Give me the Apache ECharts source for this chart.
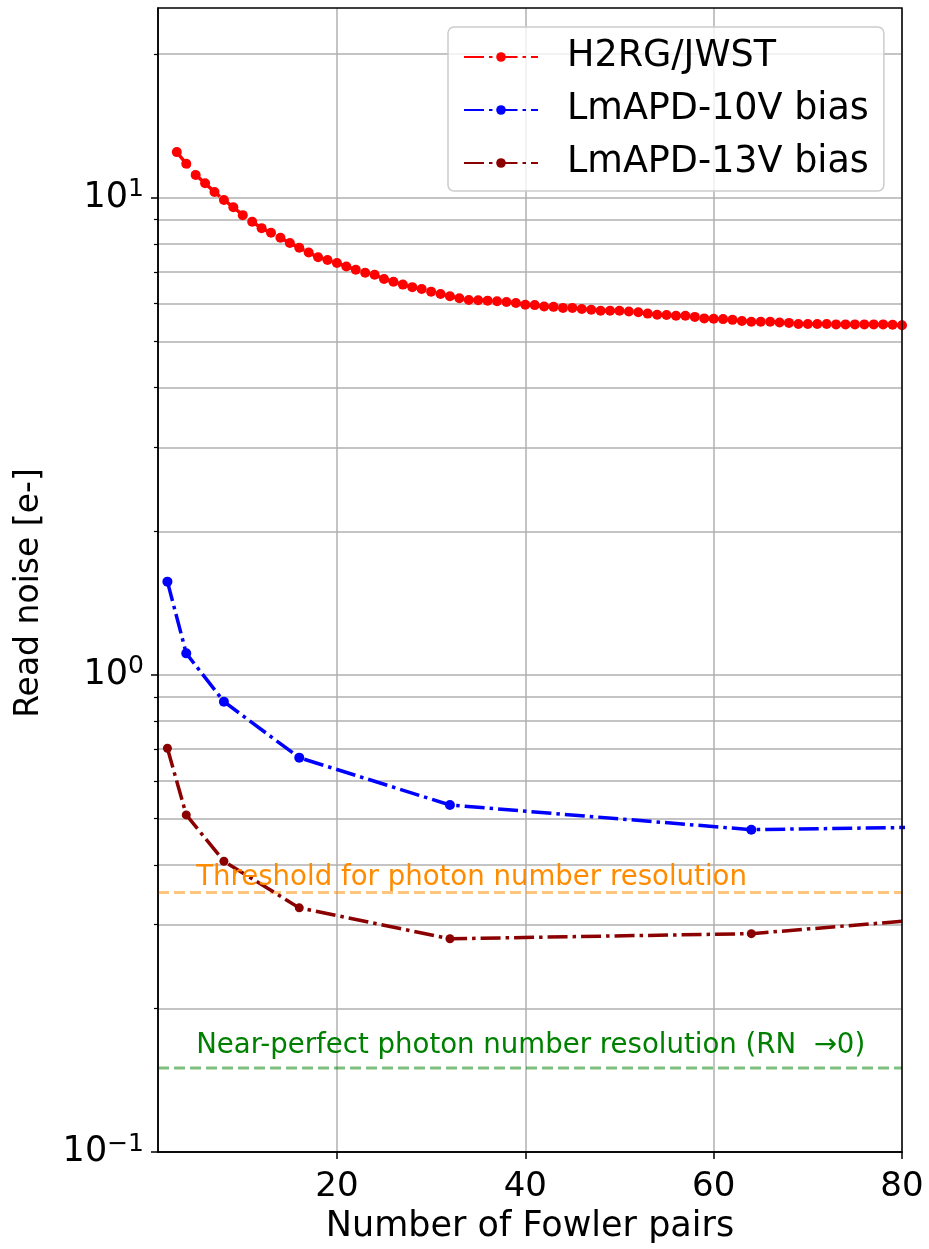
<!DOCTYPE html>
<html>
<head>
<meta charset="utf-8">
<script src="https://cdn.jsdelivr.net/npm/echarts@6/dist/echarts.min.js"></script>
<style>
  html, body { margin: 0; padding: 0; background: #ffffff; }
  #chart { width: 929px; height: 1249px; }
</style>
</head>
<body>
<div id="chart"></div>
<script>
// Read noise versus number of Fowler pairs
const h2rgPairs = [3, 4, 5, 6, 7, 8, 9, 10, 11, 12, 13, 14, 15, 16, 17, 18, 19, 20,
  21, 22, 23, 24, 25, 26, 27, 28, 29, 30, 31, 32, 33, 34, 35, 36, 37, 38, 39, 40,
  41, 42, 43, 44, 45, 46, 47, 48, 49, 50, 51, 52, 53, 54, 55, 56, 57, 58, 59, 60,
  61, 62, 63, 64, 65, 66, 67, 68, 69, 70, 71, 72, 73, 74, 75, 76, 77, 78, 79, 80];
const h2rgNoise = [12.47, 11.79, 11.17, 10.73, 10.29, 9.90, 9.56, 9.20, 8.91, 8.64, 8.45, 8.25,
  8.04, 7.86, 7.68, 7.51, 7.41, 7.30, 7.18, 7.07, 6.97, 6.90, 6.76, 6.67, 6.58, 6.50,
  6.44, 6.36, 6.29, 6.22, 6.16, 6.11, 6.10, 6.09, 6.07, 6.05, 6.02, 5.97, 5.96, 5.92,
  5.91, 5.88, 5.88, 5.85, 5.83, 5.80, 5.80, 5.80, 5.78, 5.76, 5.72, 5.69, 5.68, 5.66,
  5.66, 5.63, 5.59, 5.58, 5.57, 5.55, 5.52, 5.50, 5.50, 5.50, 5.48, 5.47, 5.44, 5.44,
  5.44, 5.44, 5.43, 5.43, 5.43, 5.43, 5.43, 5.43, 5.42, 5.41];

const apdPairs = [2, 4, 8, 16, 32, 64, 128];
const apd10Noise = [1.569, 1.110, 0.879, 0.671, 0.534, 0.474, 0.494];
const apd13Noise = [0.702, 0.509, 0.407, 0.325, 0.280, 0.287, 0.364];

const seriesNames = ['H2RG/JWST', 'LmAPD-10V bias', 'LmAPD-13V bias'];

// Reference levels for photon number resolution
const resolveLevel = [0.35, 0.35];
const perfectLevel = [0.15, 0.15];
const levelSpan = [1, 80];

// Axis ticks
const xTicks = [20, 40, 60, 80];
const yMajorTicks = [0.1, 1, 10];
const yMinorTicks = [0.2, 0.3, 0.4, 0.5, 0.6, 0.7, 0.8, 0.9, 2, 3, 4, 5, 6, 7, 8, 9, 20];

const FONT = 'DejaVu Sans';
const zip = (xs, ys) => xs.map((x, i) => [x, ys[i]]);
const DASHDOT = [20, 5, 3.5, 5];

function curve(name, xs, ys, color, size) {
  return {
    name: name,
    type: 'line',
    data: zip(xs, ys),
    symbol: 'circle',
    symbolSize: size,
    showAllSymbol: true,
    clip: true,
    z: 4,
    itemStyle: { color: color },
    lineStyle: { color: color, width: 3.5, type: DASHDOT }
  };
}

function level(ys, lineColor, textColor, text, textY) {
  return {
    type: 'line',
    data: zip(levelSpan, ys),
    symbol: 'none',
    silent: true,
    z: 2,
    lineStyle: { color: lineColor, width: 3, type: [11, 5] },
    markPoint: {
      silent: true,
      symbol: 'circle',
      symbolSize: 1,
      itemStyle: { color: 'rgba(0,0,0,0)' },
      data: [{
        coord: [5, textY],
        label: {
          show: true, position: 'right', distance: 0,
          formatter: text, color: textColor, fontFamily: FONT, fontSize: 27.6
        }
      }]
    }
  };
}

const chart = echarts.init(document.getElementById('chart'), null, { renderer: 'canvas' });

const option = {
  backgroundColor: '#ffffff',
  animation: false,
  grid: {
    left: 158, top: 8, right: 27, bottom: 96,
    show: true, borderColor: '#000000', borderWidth: 1.5, backgroundColor: 'transparent',
    z: 5
  },
  legend: {
    data: seriesNames,
    orient: 'vertical',
    left: 448, top: 27,
    padding: [10, 15, 8, 15],
    itemGap: 13,
    itemWidth: 74, itemHeight: 12,
    backgroundColor: 'rgba(255,255,255,0.8)',
    borderColor: '#cccccc', borderWidth: 1.5, borderRadius: 6,
    z: 10,
    textStyle: { fontFamily: FONT, fontSize: 36.5, color: '#000000', lineHeight: 40, padding: [0, 0, 0, 24] }
  },
  xAxis: [{
    type: 'value',
    min: 1, max: 80,
    name: 'Number of Fowler pairs',
    nameLocation: 'middle',
    nameGap: 56,
    nameTextStyle: { fontFamily: FONT, fontSize: 35, color: '#000000' },
    axisLine: { show: true, onZero: false, lineStyle: { color: '#000000', width: 1.5 } },
    axisTick: { show: true, customValues: xTicks, length: 7, lineStyle: { color: '#000000', width: 1.5 } },
    axisLabel: { customValues: xTicks, margin: 18, fontFamily: FONT, fontSize: 34, color: '#000000' },
    splitLine: { show: true, lineStyle: { color: '#b0b0b0', width: 1.5 } }
  }],
  yAxis: [{
    type: 'log',
    logBase: 10,
    min: 0.1, max: 25,
    name: 'Read noise [e-]',
    nameLocation: 'middle',
    nameGap: 112,
    nameRotate: 90,
    nameTextStyle: { fontFamily: FONT, fontSize: 33, color: '#000000', padding: [0, 26, 0, 0] },
    axisLine: { show: true, onZero: false, lineStyle: { color: '#000000', width: 1.5 } },
    axisTick: { show: true, customValues: yMajorTicks, length: 7, lineStyle: { color: '#000000', width: 1.5 } },
    axisLabel: {
      customValues: yMajorTicks,
      margin: 14,
      formatter: function (v) {
        const e = Math.round(Math.log10(v));
        return '{b|10}{s|' + (e < 0 ? '\u2212' + (-e) : e) + '}';
      },
      rich: {
        b: { fontFamily: FONT, fontSize: 35, color: '#000000', lineHeight: 35, verticalAlign: 'bottom' },
        s: { fontFamily: FONT, fontSize: 25, color: '#000000', lineHeight: 25, verticalAlign: 'bottom', padding: [0, 0, 13, 0] }
      }
    },
    splitLine: { show: true, lineStyle: { color: '#b0b0b0', width: 1.5 } }
  }, {
    type: 'log',
    logBase: 10,
    min: 0.1, max: 25,
    position: 'left',
    axisLine: { show: false },
    axisTick: { show: true, customValues: yMinorTicks, length: 4, lineStyle: { color: '#000000', width: 1.2 } },
    axisLabel: { show: false },
    splitLine: { show: true, lineStyle: { color: '#b0b0b0', width: 1.5 } }
  }],
  series: [
    level(resolveLevel, 'rgba(255,140,0,0.5)', '#ff8c00', 'Threshold for photon number resolution', 0.375),
    level(perfectLevel, 'rgba(0,128,0,0.5)', '#008000', 'Near-perfect photon number resolution (RN  \u21920)', 0.167),
    curve(seriesNames[0], h2rgPairs, h2rgNoise, '#ff0000', 10),
    curve(seriesNames[1], apdPairs, apd10Noise, '#0000ff', 10),
    curve(seriesNames[2], apdPairs, apd13Noise, '#8b0000', 9)
  ]
};

chart.setOption(option);
</script>
</body>
</html>
